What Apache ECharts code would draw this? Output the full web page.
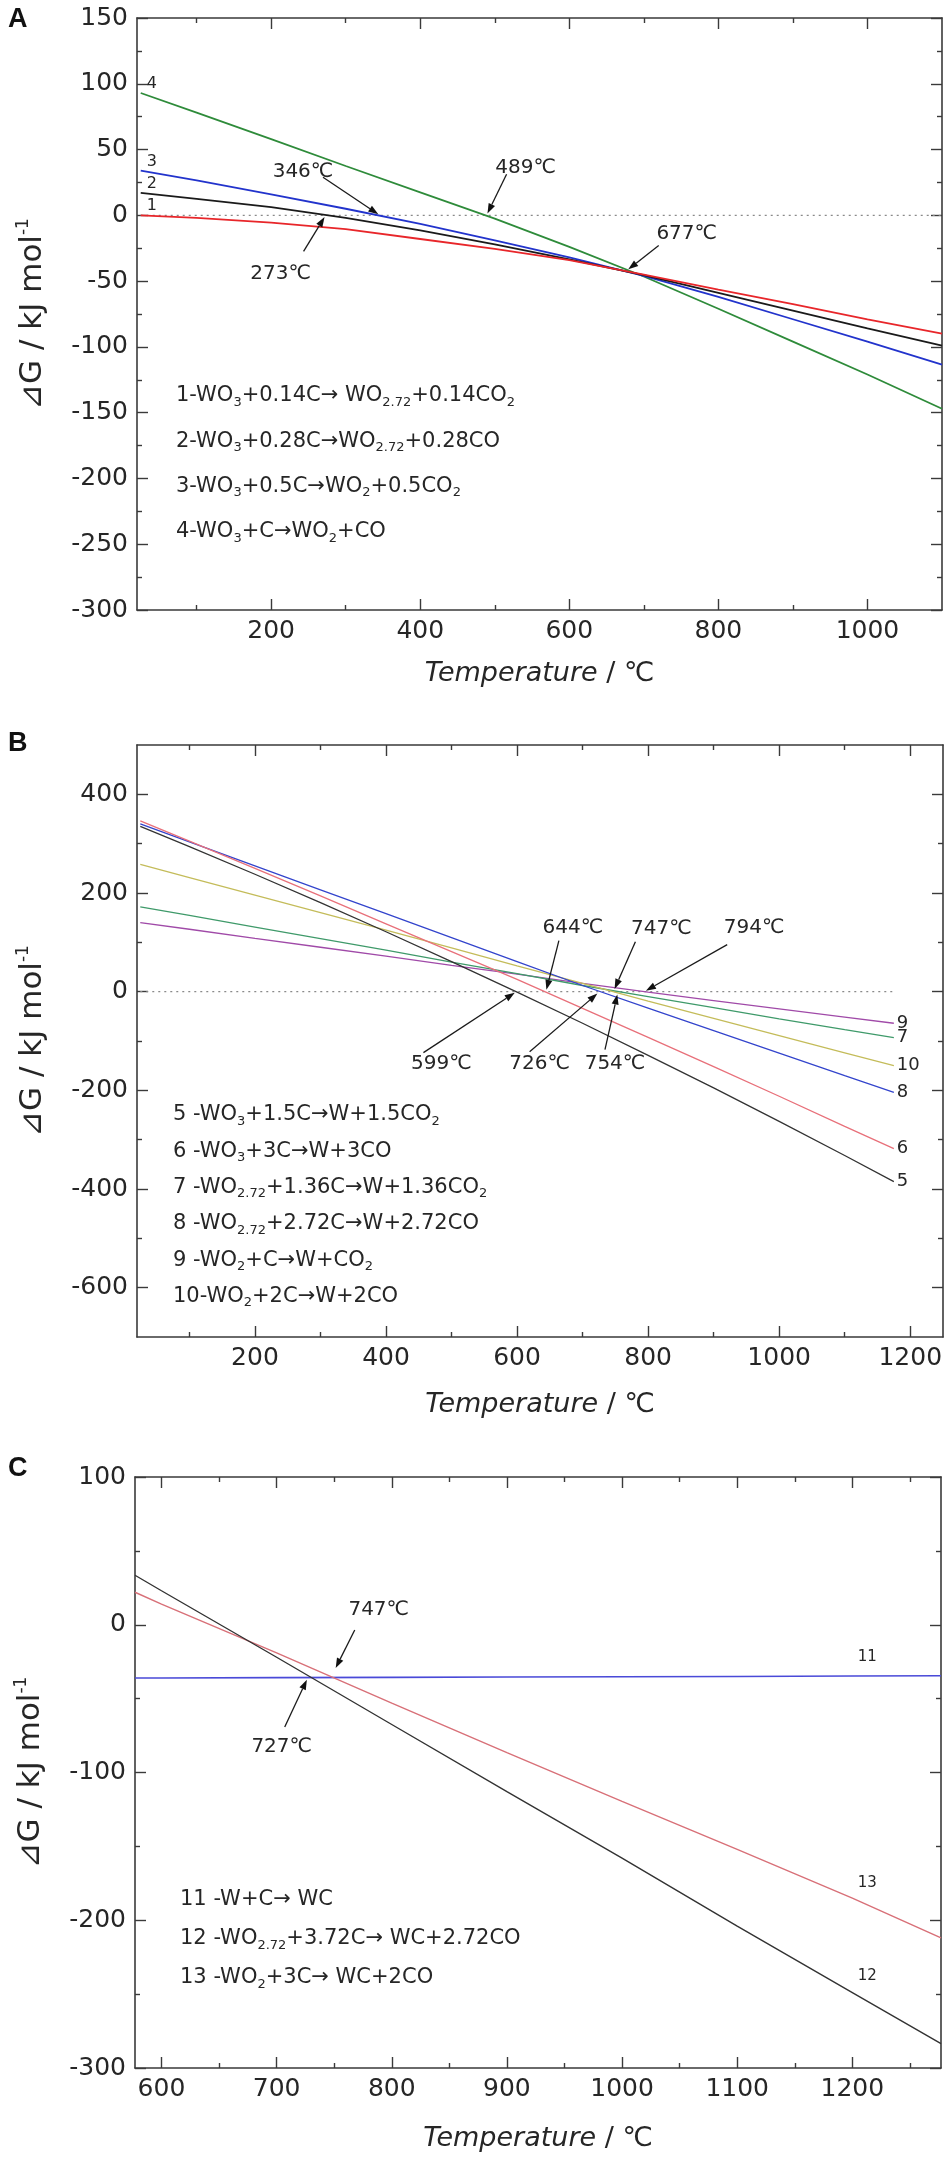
<!DOCTYPE html>
<html>
<head>
<meta charset="utf-8">
<script src="https://cdn.jsdelivr.net/npm/echarts@6/dist/echarts.min.js"></script>
<style>
html, body { margin: 0; padding: 0; background: #fff; }
#chart { width: 952px; height: 2161px; }
</style>
</head>
<body>
<div id="chart"></div>
<script>
// ---- panel A : WO3 reduction to WO2.72 / WO2 ----
var tempA = [25, 100, 200, 300, 400, 500, 600, 700, 800, 900, 1000, 1100];
var dgA1 = [0, -2, -5.5, -10.5, -18, -25.5, -34, -45, -56.5, -67.5, -79, -90];
var dgA2 = [17, 12.5, 6.2, -2, -11.5, -22, -33.5, -45.5, -59, -72.5, -86, -99];
var dgA3 = [34, 26.5, 16, 5, -6.5, -19, -32, -46, -62, -79, -96, -113.5];
var dgA4 = [93, 78, 58, 37.5, 17.5, -2.5, -24, -46.5, -71, -96, -121, -147];
var zeroA = [25, 1100];
var xLabelsA = [200, 400, 600, 800, 1000];
var xMinorA = [100, 300, 500, 700, 900];
var yLabelsA = [150, 100, 50, 0, -50, -100, -150, -200, -250, -300];
var yMinorA = [125, 75, 25, -25, -75, -125, -175, -225, -275];
var crossTA = [273, 346, 489, 677];
var crossVA = [0, 0, 0, -42];
var legendA = [
    '1-WO{s|3}+0.14C\u2192 WO{s|2.72}+0.14CO{s|2}',
    '2-WO{s|3}+0.28C\u2192WO{s|2.72}+0.28CO',
    '3-WO{s|3}+0.5C\u2192WO{s|2}+0.5CO{s|2}',
    '4-WO{s|3}+C\u2192WO{s|2}+CO'
];

// ---- panel B : reduction to W ----
var tempB = [25, 100, 200, 300, 400, 500, 600, 700, 800, 900, 1000, 1100, 1175];
var dgB5 = [335, 294, 238, 180.5, 121.5, 61, -1, -64, -129, -195, -263, -332, -385];
var dgB6 = [346, 305, 250, 194, 137.5, 81, 25, -34, -92.5, -152, -212, -273, -318];
var dgB7 = [172, 154.5, 131, 107.5, 84, 60, 36.5, 12.5, -10, -32.5, -55, -77, -93];
var dgB8 = [340, 303.5, 255, 206.5, 158, 109.5, 61, 12.5, -33.5, -79, -124.5, -170, -204];
var dgB9 = [140, 126.5, 108, 90, 72, 53.5, 35.5, 17, -1, -18, -35, -51.5, -64];
var dgB10 = [258, 231, 195.5, 160, 124.5, 89, 52.5, 17, -19, -54, -89, -124, -150];
var zeroB = [25, 1175];
var xLabelsB = [200, 400, 600, 800, 1000, 1200];
var xMinorB = [100, 300, 500, 700, 900, 1100];
var yLabelsB = [400, 200, 0, -200, -400, -600];
var yMinorB = [300, 100, -100, -300, -500];
var crossTB = [599, 644, 726, 747, 754, 794];
var legendB = [
    '5 -WO{s|3}+1.5C\u2192W+1.5CO{s|2}',
    '6 -WO{s|3}+3C\u2192W+3CO',
    '7 -WO{s|2.72}+1.36C\u2192W+1.36CO{s|2}',
    '8 -WO{s|2.72}+2.72C\u2192W+2.72CO',
    '9 -WO{s|2}+C\u2192W+CO{s|2}',
    '10-WO{s|2}+2C\u2192W+2CO'
];

// ---- panel C : carburisation to WC ----
var tempC = [577, 600, 700, 800, 900, 1000, 1100, 1200, 1277];
var dgC11 = [-36, -36, -35.8, -35.6, -35.4, -35.2, -35, -34.7, -34.5];
var dgC12 = [33.5, 23, -22, -67.5, -113, -158, -204, -249, -283.5];
var dgC13 = [22, 14, -19, -53, -86.5, -119.5, -152, -185, -212];
var xLabelsC = [600, 700, 800, 900, 1000, 1100, 1200];
var xMinorC = [650, 750, 850, 950, 1050, 1150, 1250];
var yLabelsC = [100, 0, -100, -200, -300];
var yMinorC = [50, -50, -150, -250];
var crossTC = [727, 747];
var crossVC = [-36, -36];
var legendC = [
    '11 -W+C\u2192 WC',
    '12 -WO{s|2.72}+3.72C\u2192 WC+2.72CO',
    '13 -WO{s|2}+3C\u2192 WC+2CO'
];

var FONT = 'DejaVu Sans';
var INK = '#262626';
var FRAME = '#3a3a3a';

var chart = echarts.init(document.getElementById('chart'));

function makeAxes(dim, g, min, max, majors, minors, labels, nameOpt) {
    var sides = dim === 'x' ? ['bottom', 'top'] : ['left', 'right'];
    var list = [];
    sides.forEach(function (side, s) {
        [majors, minors].forEach(function (vals, m) {
            var ax = {
                type: 'value', gridIndex: g, position: side, min: min, max: max,
                splitLine: { show: false },
                axisLine: { show: m === 0, onZero: false, lineStyle: { color: FRAME, width: 1.6 } },
                axisTick: { show: true, inside: true, length: m === 0 ? 11 : 5, customValues: vals,
                            lineStyle: { color: FRAME, width: 1.4 } },
                axisLabel: { show: false }
            };
            if (s === 0 && m === 0) {
                ax.axisLabel = { show: true, customValues: labels, margin: 9, color: INK,
                                 fontFamily: FONT, fontSize: 25,
                                 formatter: function (v) { return String(v); } };
                for (var k in nameOpt) ax[k] = nameOpt[k];
            }
            list.push(ax);
        });
    });
    return list;
}

function xName(gap) {
    return {
        name: '{i|Temperature} / \u2103', nameLocation: 'middle', nameGap: gap,
        nameTextStyle: { color: INK, fontFamily: FONT, fontSize: 27,
            rich: { i: { fontStyle: 'italic', fontFamily: FONT, fontSize: 27, color: INK } } }
    };
}
var yName = {
    name: '\u22BFG / kJ mol{sup|-1}', nameLocation: 'middle', nameGap: 86,
    nameTextStyle: { color: INK, fontFamily: FONT, fontSize: 31, lineHeight: 36,
        rich: { sup: { fontFamily: FONT, fontSize: 17, color: INK, verticalAlign: 'top', lineHeight: 20 } } }
};

function curve(g, temps, vals, color, width) {
    return {
        type: 'line', xAxisIndex: 4 * g, yAxisIndex: 4 * g,
        data: temps.map(function (t, i) { return [t, vals[i]]; }),
        showSymbol: false, silent: true,
        lineStyle: { color: color, width: width }, z: 3
    };
}
function zeroLine(g, ends) {
    return {
        type: 'line', xAxisIndex: 4 * g, yAxisIndex: 4 * g,
        data: [[ends[0], 0], [ends[1], 0]], showSymbol: false, silent: true,
        lineStyle: { color: '#8a8a8a', width: 1.3, type: [2, 4] }, z: 2
    };
}

var xAxes = [].concat(
    makeAxes('x', 0, 20, 1100, xLabelsA, xMinorA, xLabelsA, xName(50)),
    makeAxes('x', 1, 20, 1250, xLabelsB, xMinorB, xLabelsB, xName(54)),
    makeAxes('x', 2, 577, 1277, xLabelsC, xMinorC, xLabelsC, xName(57))
);
var yAxes = [].concat(
    makeAxes('y', 0, -300, 150, yLabelsA, yMinorA, yLabelsA, yName),
    makeAxes('y', 1, -700, 500, yLabelsB, yMinorB, yLabelsB, yName),
    makeAxes('y', 2, -300, 100, yLabelsC, yMinorC, yLabelsC, yName)
);

var option = {
    animation: false,
    grid: [
        { left: 137, top: 18, width: 805, height: 592 },
        { left: 137, top: 745, width: 806, height: 592 },
        { left: 135, top: 1477, width: 806, height: 591 }
    ],
    xAxis: xAxes,
    yAxis: yAxes,
    series: [
        zeroLine(0, zeroA),
        curve(0, tempA, dgA4, '#2e8b3a', 1.8),
        curve(0, tempA, dgA3, '#2233cc', 1.8),
        curve(0, tempA, dgA2, '#1a1a1a', 1.8),
        curve(0, tempA, dgA1, '#e8262a', 1.8),
        zeroLine(1, zeroB),
        curve(1, tempB, dgB9, '#a04aa8', 1.3),
        curve(1, tempB, dgB7, '#3f9a6a', 1.3),
        curve(1, tempB, dgB10, '#c4bc5a', 1.3),
        curve(1, tempB, dgB8, '#3344cc', 1.3),
        curve(1, tempB, dgB6, '#e8707a', 1.3),
        curve(1, tempB, dgB5, '#333333', 1.3),
        curve(2, tempC, dgC11, '#4a4ad8', 1.6),
        curve(2, tempC, dgC13, '#d87078', 1.4),
        curve(2, tempC, dgC12, '#333333', 1.4)
    ]
};
chart.setOption(option);

// ---- annotations placed through the axes ----
function pt(g, x, y) {
    return chart.convertToPixel({ xAxisIndex: 4 * g, yAxisIndex: 4 * g }, [x, y]);
}
function txt(x, y, str, size, align, extra) {
    var st = { text: str, fontSize: size, fontFamily: FONT, fill: INK,
               align: align || 'center', textAlign: align || 'center',
               verticalAlign: 'middle', textVerticalAlign: 'middle' };
    for (var k in extra) st[k] = extra[k];
    return { type: 'text', x: x, y: y, style: st, z: 20 };
}
// lay: [tail dx, tail dy, text dx, text dy, gap at tip]
function arrowNote(g, t, v, lay) {
    var tip = pt(g, t, v);
    var tail = [tip[0] + lay[0], tip[1] + lay[1]];
    var dx = tip[0] - tail[0], dy = tip[1] - tail[1];
    var len = Math.sqrt(dx * dx + dy * dy);
    var ux = dx / len, uy = dy / len;
    var gap = lay[4] || 2;
    var hx = tip[0] - ux * gap, hy = tip[1] - uy * gap;
    var bx = hx - ux * 10, by = hy - uy * 10;
    var nx = -uy, ny = ux;
    return [
        { type: 'line', shape: { x1: tail[0], y1: tail[1], x2: bx, y2: by },
          style: { stroke: '#1a1a1a', lineWidth: 1.3 }, z: 20 },
        { type: 'polygon', shape: { points: [[hx, hy], [bx + nx * 3.5, by + ny * 3.5], [bx - nx * 3.5, by - ny * 3.5]] },
          style: { fill: '#111' }, z: 20 },
        txt(tip[0] + lay[2], tip[1] + lay[3], t + '\u2103', 20)
    ];
}
function legendLine(x, y, str) {
    return txt(x, y, str, 21, 'left', {
        lineHeight: 26,
        rich: { s: { fontSize: 13, fontFamily: FONT, fill: INK, color: INK, lineHeight: 14, verticalAlign: 'bottom' } }
    });
}

var layA = [[-22, 36, -45, 58], [-57, -38, -77, -44], [20, -41, 39, -48], [32, -25, 60, -37]];
var layB = [[-93, 61, -75, 72], [13, -51, 27, -64], [-70, 60, -60, 72, 3],
            [22, -50, 48, -63, 3], [-13, 58, -3, 72, 3], [83, -47, 110, -64]];
var layC = [[-23, 49, -26, 69, 2], [24, -48, 48, -68, 11]];

var gfx = [];
crossTA.forEach(function (t, i) { gfx = gfx.concat(arrowNote(0, t, crossVA[i], layA[i])); });
crossTB.forEach(function (t, i) { gfx = gfx.concat(arrowNote(1, t, 0, layB[i])); });
crossTC.forEach(function (t, i) { gfx = gfx.concat(arrowNote(2, t, crossVC[i], layC[i])); });

// curve numbers
[dgA1, dgA2, dgA3, dgA4].forEach(function (arr, i) {
    var p = pt(0, tempA[0], arr[0]);
    gfx.push(txt(p[0] + 11, p[1] - 9, String(i + 1), 16));
});
var endB = [[dgB5, '5'], [dgB6, '6'], [dgB7, '7'], [dgB8, '8'], [dgB9, '9'], [dgB10, '10']];
endB.forEach(function (e) {
    var n = tempB.length - 1;
    var p = pt(1, tempB[n], e[0][n]);
    gfx.push(txt(p[0] + 3, p[1], e[1], 18, 'left'));
});
var cLab = [[dgC11, '11', -19], [dgC13, '13', -15], [dgC12, '12', -17]];
cLab.forEach(function (e) {
    var p = pt(2, tempC[7], e[0][7]);
    gfx.push(txt(p[0] + 15, p[1] + e[2], e[1], 15));
});

// reaction lists
legendA.forEach(function (s, i) { gfx.push(legendLine(176, 396 + i * 45.3, s)); });
legendB.forEach(function (s, i) { gfx.push(legendLine(173, 1115 + i * 36.3, s)); });
legendC.forEach(function (s, i) { gfx.push(legendLine(180, 1900 + i * 39, s)); });

// panel letters
[['A', 6], ['B', 730], ['C', 1455]].forEach(function (p) {
    gfx.push({ type: 'text', x: 8, y: p[1], z: 20,
        style: { text: p[0], fontSize: 27, fontWeight: 'bold', fontFamily: 'Liberation Sans',
                 fill: '#111', align: 'left', verticalAlign: 'top' } });
});

chart.setOption({ graphic: gfx });

window.onresize = function () {
    chart.resize();
};
</script>
</body>
</html>
